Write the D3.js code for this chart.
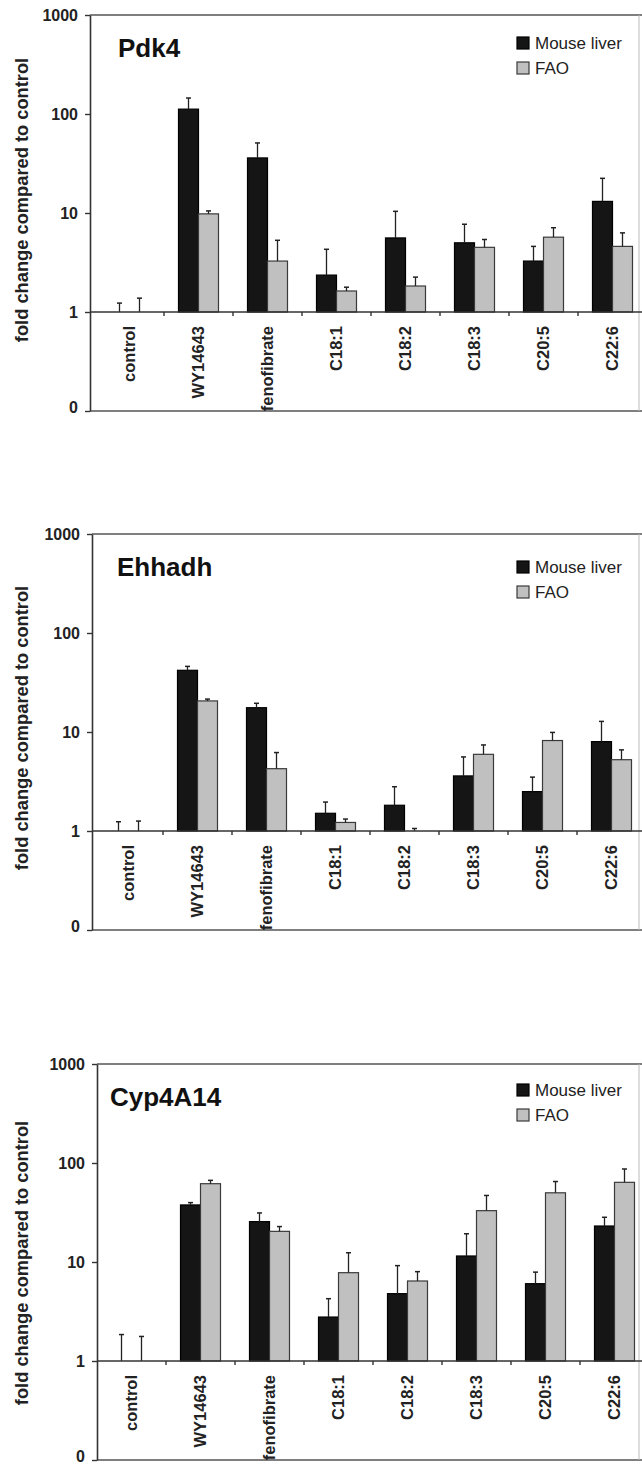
<!DOCTYPE html>
<html>
<head>
<meta charset="utf-8">
<script src="https://cdn.jsdelivr.net/npm/d3@7"></script>
<style>
  body { margin: 0; background: #fff; }
  svg { display: block; font-family: "Liberation Sans", Arial, sans-serif; }
</style>
</head>
<body>
<div id="chart"></div>
<script>
const categories = ['control', 'WY14643', 'fenofibrate', 'C18:1', 'C18:2', 'C18:3', 'C20:5', 'C22:6'];
const seriesNames = ['Mouse liver', 'FAO'];
const yTicks = [0.1, 1, 10, 100, 1000];
const yTickLabels = ['0', '1', '10', '100', '1000'];

// means and upper error (SD) per gene, per series
const pdk4Liver = [1, 112, 36, 2.36, 5.6, 5.0, 3.27, 13.1];
const pdk4LiverErr = [0.23, 33, 15, 1.94, 4.8, 2.7, 1.33, 9.3];
const pdk4Fao = [1, 9.8, 3.27, 1.63, 1.83, 4.5, 5.7, 4.6];
const pdk4FaoErr = [0.38, 0.7, 2.03, 0.15, 0.42, 0.9, 1.4, 1.7];

const ehhadhLiver = [1, 42, 17.6, 1.51, 1.82, 3.6, 2.5, 8.0];
const ehhadhLiverErr = [0.24, 4, 1.9, 0.45, 0.98, 2.0, 1.0, 4.8];
const ehhadhFao = [1, 20.6, 4.26, 1.22, 1.0, 5.95, 8.2, 5.25];
const ehhadhFaoErr = [0.26, 0.9, 1.94, 0.1, 0.06, 1.45, 1.7, 1.35];

const cypLiver = [1, 37.7, 25.6, 2.78, 4.79, 11.5, 6.04, 23.1];
const cypLiverErr = [0.85, 2.1, 5.7, 1.48, 4.4, 7.8, 1.86, 5.2];
const cypFao = [1, 61.8, 20.4, 7.8, 6.43, 33, 50, 63.8];
const cypFaoErr = [0.77, 5, 2.4, 4.6, 1.56, 14, 15, 23.2];

const panels = [
  { gene: 'Pdk4', liver: pdk4Liver, liverErr: pdk4LiverErr, fao: pdk4Fao, faoErr: pdk4FaoErr,
    top: 15, axisX: 90, x0: 95, titleX: 118, legendDy: 22, labelDy: 185 },
  { gene: 'Ehhadh', liver: ehhadhLiver, liverErr: ehhadhLiverErr, fao: ehhadhFao, faoErr: ehhadhFaoErr,
    top: 534, axisX: 92, x0: 94, titleX: 117, legendDy: 27, labelDy: 194 },
  { gene: 'Cyp4A14', liver: cypLiver, liverErr: cypLiverErr, fao: cypFao, faoErr: cypFaoErr,
    top: 1064, axisX: 97, x0: 97, titleX: 110, legendDy: 20, labelDy: 199 },
];

const width = 642, height = 1464;
const plotH = 396, step = 69, barW = 20, rightEdge = 639;
const fills = ['#151515', '#c0c0c0'];
const strokes = ['#000', '#3a3a3a'];

const svg = d3.select('#chart').append('svg')
  .attr('width', width).attr('height', height);

panels.forEach(p => {
  const g = svg.append('g');
  const y = d3.scaleLog().domain([0.1, 1000]).range([p.top + plotH, p.top]);
  const x = d3.scaleBand().domain(categories)
    .range([p.x0, p.x0 + step * categories.length]).paddingInner(0).paddingOuter(0);
  const xs = d3.scaleBand().domain(seriesNames).range([0, barW * 2]);
  const base = y(1);

  // frame
  g.append('line').attr('x1', p.axisX).attr('x2', width).attr('y1', y(1000)).attr('y2', y(1000))
    .attr('stroke', '#555').attr('stroke-width', 1.6);
  g.append('line').attr('x1', p.axisX).attr('x2', width).attr('y1', y(0.1)).attr('y2', y(0.1))
    .attr('stroke', '#555').attr('stroke-width', 1.6);
  g.append('line').attr('x1', rightEdge).attr('x2', rightEdge).attr('y1', y(1000)).attr('y2', y(0.1))
    .attr('stroke', '#bbb').attr('stroke-width', 1);

  // y axis
  const yAxis = d3.axisLeft(y).tickValues(yTicks)
    .tickFormat((d, i) => yTickLabels[i]).tickSize(5).tickSizeOuter(0).tickPadding(7);
  const ya = g.append('g').attr('transform', `translate(${p.axisX},0)`).call(yAxis);
  ya.select('.domain').attr('stroke', '#333').attr('stroke-width', 1.6);
  ya.selectAll('.tick line').attr('stroke', '#333').attr('stroke-width', 1.4);
  ya.selectAll('.tick text').attr('fill', '#222').attr('font-size', 16).attr('font-weight', 'bold')
    .attr('dy', (d, i) => i === 0 ? '0.1em' : '0.32em');

  // bars
  const rows = categories.map((c, i) => ({
    cat: c,
    vals: [
      { s: seriesNames[0], v: p.liver[i], e: p.liverErr[i] },
      { s: seriesNames[1], v: p.fao[i], e: p.faoErr[i] },
    ],
  }));
  const cg = g.selectAll('g.cat').data(rows).join('g')
    .attr('class', 'cat')
    .attr('transform', d => `translate(${x(d.cat) + x.bandwidth() / 2 - barW},0)`);

  cg.selectAll('rect').data(d => d.vals.filter(v => v.v > 1.001)).join('rect')
    .attr('x', d => xs(d.s)).attr('width', xs.bandwidth())
    .attr('y', d => y(d.v)).attr('height', d => base - y(d.v))
    .attr('fill', d => fills[seriesNames.indexOf(d.s)])
    .attr('stroke', d => strokes[seriesNames.indexOf(d.s)]).attr('stroke-width', 1.2);

  // error bars (upper only)
  const eb = cg.selectAll('g.err').data(d => d.vals).join('g').attr('class', 'err')
    .attr('transform', d => `translate(${xs(d.s) + xs.bandwidth() / 2},0)`);
  eb.append('line').attr('y1', d => y(d.v)).attr('y2', d => y(d.v + d.e))
    .attr('stroke', '#222').attr('stroke-width', 1.3);
  eb.append('line').attr('x1', -2.5).attr('x2', 2.5)
    .attr('y1', d => y(d.v + d.e)).attr('y2', d => y(d.v + d.e))
    .attr('stroke', '#222').attr('stroke-width', 1.5);

  // x axis at 1
  g.append('line').attr('x1', p.axisX).attr('x2', width).attr('y1', base).attr('y2', base)
    .attr('stroke', '#333').attr('stroke-width', 1.6);
  g.selectAll('line.xtick').data(categories.slice(1)).join('line')
    .attr('class', 'xtick')
    .attr('x1', d => x(d)).attr('x2', d => x(d))
    .attr('y1', base).attr('y2', base + 4)
    .attr('stroke', '#333').attr('stroke-width', 1.4);
  g.selectAll('text.xlab').data(categories).join('text')
    .attr('class', 'xlab')
    .attr('transform', d => `translate(${x(d) + x.bandwidth() / 2},${base + 14}) rotate(-90)`)
    .attr('text-anchor', 'end').attr('dy', '0.35em')
    .attr('font-size', 16.5).attr('font-weight', 'bold').attr('fill', '#222')
    .text(d => d);

  // y title
  g.append('text')
    .attr('transform', `translate(22,${p.top + p.labelDy}) rotate(-90)`)
    .attr('text-anchor', 'middle').attr('dy', '0.35em')
    .attr('font-size', 18.3).attr('font-weight', 'bold').attr('fill', '#222')
    .text('fold change compared to control');

  // gene title
  g.append('text').attr('x', p.titleX).attr('y', p.top + 42)
    .attr('font-size', 26).attr('font-weight', 'bold').attr('fill', '#111')
    .text(p.gene);

  // legend
  const lg = g.append('g').attr('transform', `translate(517,${p.top + p.legendDy})`);
  seriesNames.forEach((s, i) => {
    lg.append('rect').attr('x', 0).attr('y', i * 25).attr('width', 12).attr('height', 12)
      .attr('fill', fills[i]).attr('stroke', strokes[i]).attr('stroke-width', 1.2);
    lg.append('text').attr('x', 18).attr('y', i * 25 + 12)
      .attr('font-size', 17).attr('fill', '#222').text(s);
  });
});
</script>
</body>
</html>
